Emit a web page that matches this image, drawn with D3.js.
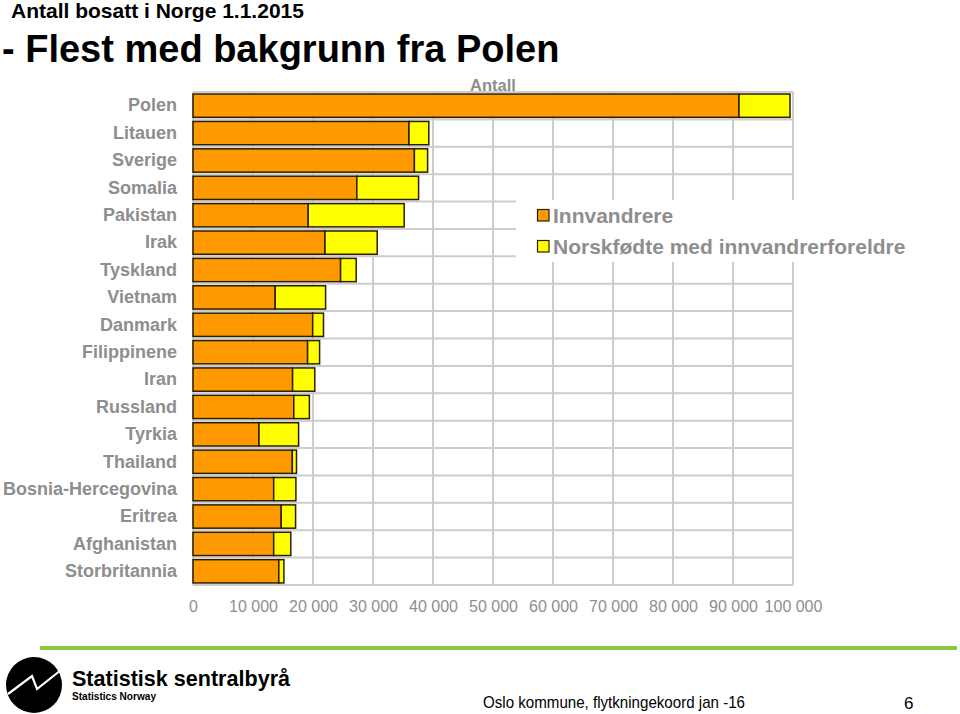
<!DOCTYPE html>
<html>
<head>
<meta charset="utf-8">
<script src="https://cdn.jsdelivr.net/npm/d3@7"></script>
<style>
  html, body { margin: 0; padding: 0; background: #fff; }
  svg { display: block; }
  text { font-family: "Liberation Sans", Arial, sans-serif; }
</style>
</head>
<body>
<svg id="chart" width="960" height="714"></svg>
<script>
// ---- data ----
const categories = ["Polen","Litauen","Sverige","Somalia","Pakistan","Irak","Tyskland","Vietnam","Danmark","Filippinene","Iran","Russland","Tyrkia","Thailand","Bosnia-Hercegovina","Eritrea","Afghanistan","Storbritannia"];
const innvandrere = [91000, 36000, 36900, 27300, 19200, 22000, 24600, 13700, 19950, 19100, 16600, 16800, 11000, 16550, 13450, 14700, 13450, 14300];
const norskfodte  = [8500, 3300, 2200, 10300, 16000, 8700, 2600, 8400, 1800, 2000, 3700, 2600, 6600, 700, 3700, 2400, 2850, 850];
const seriesNames = ["Innvandrere", "Norskfødte med innvandrerforeldre"];
const seriesColors = ["#FF9900", "#FFFF00"];
const xTicks = [0, 10000, 20000, 30000, 40000, 50000, 60000, 70000, 80000, 90000, 100000];

const svg = d3.select("#chart");
const gray = "#8e8e8e";
const gridColor = "#cdcdcd";

// titles
svg.append("text").attr("x", 11).attr("y", 18)
  .attr("font-size", 21).attr("font-weight", "bold").attr("fill", "#000")
  .text("Antall bosatt i Norge 1.1.2015");
svg.append("text").attr("x", 2).attr("y", 62)
  .attr("font-size", 38).attr("font-weight", "bold").attr("fill", "#000")
  .text("- Flest med bakgrunn fra Polen");

// scales
const x = d3.scaleLinear().domain([0, 100000]).range([193, 793]);
const y = d3.scaleBand().domain(categories).range([92, 585]).paddingInner(0.15).paddingOuter(0.075);

// gridlines
const gGrid = svg.append("g");
gGrid.selectAll("line.v").data(xTicks).join("line")
  .attr("x1", d => x(d)).attr("x2", d => x(d))
  .attr("y1", y.range()[0]).attr("y2", y.range()[1])
  .attr("stroke", gridColor).attr("stroke-width", 2);
const hLines = d3.range(categories.length + 1).map(i => y.range()[0] + i * y.step());
gGrid.selectAll("line.h").data(hLines).join("line")
  .attr("x1", x(0)).attr("x2", x(100000))
  .attr("y1", d => d).attr("y2", d => d)
  .attr("stroke", gridColor).attr("stroke-width", 2);

// stacked data
const rows = categories.map((c, i) => ({ cat: c, Innvandrere: innvandrere[i], Norsk: norskfodte[i] }));
const stack = d3.stack().keys(["Innvandrere", "Norsk"]);
const stacked = stack(rows);

svg.append("g").selectAll("g").data(stacked).join("g")
  .attr("fill", (d, i) => seriesColors[i])
  .selectAll("rect").data(d => d).join("rect")
  .attr("x", d => x(d[0]))
  .attr("y", d => y(d.data.cat))
  .attr("width", d => x(d[1]) - x(d[0]))
  .attr("height", y.bandwidth())
  .attr("stroke", "#2a1f00").attr("stroke-width", 1.5);

// category axis
const yAxis = d3.axisLeft(y).tickSize(0).tickPadding(16);
const gy = svg.append("g").attr("transform", `translate(${x(0)},0)`).call(yAxis);
gy.select(".domain").remove();
gy.selectAll("text").attr("font-size", 18).attr("font-weight", "bold").attr("fill", gray)
  .attr("font-family", "'Liberation Sans', Arial, sans-serif");

// value axis
const loc = d3.formatLocale({ decimal: ",", thousands: " ", grouping: [3], currency: ["", ""] });
const fmt = loc.format(",d");
const xAxis = d3.axisBottom(x).tickValues(xTicks).tickFormat(fmt).tickSize(0).tickPadding(16);
const gx = svg.append("g").attr("transform", `translate(0,${y.range()[1]})`).call(xAxis);
gx.select(".domain").remove();
gx.selectAll("text").attr("font-size", 16).attr("fill", gray)
  .attr("font-family", "'Liberation Sans', Arial, sans-serif");

// axis title
svg.append("text").attr("x", (x(0) + x(100000)) / 2).attr("y", 91)
  .attr("text-anchor", "middle").attr("font-size", 16.5).attr("font-weight", "bold").attr("fill", gray)
  .text("Antall");

// legend
const lg = svg.append("g");
lg.append("rect").attr("x", 516).attr("y", 200).attr("width", 420).attr("height", 62).attr("fill", "#fff");
seriesNames.forEach((name, i) => {
  const cy = 215.5 + i * 31;
  lg.append("rect").attr("x", 537.5).attr("y", cy - 6).attr("width", 11.5).attr("height", 11.5)
    .attr("fill", seriesColors[i]).attr("stroke", "#2a1f00").attr("stroke-width", 1.2);
  lg.append("text").attr("x", 553).attr("y", cy + 7.5)
    .attr("font-size", 21).attr("font-weight", "bold").attr("fill", gray)
    .text(name);
});

// footer
svg.append("rect").attr("x", 40).attr("y", 646).attr("width", 917).attr("height", 4).attr("fill", "#8dc63f");
svg.append("circle").attr("cx", 34).attr("cy", 685).attr("r", 28).attr("fill", "#000");
svg.append("path").attr("d", "M8,694 L32,676 L37,689 L61,670")
  .attr("fill", "none").attr("stroke", "#fff").attr("stroke-width", 2.2).attr("stroke-linejoin", "miter");
svg.append("text").attr("x", 72).attr("y", 686)
  .attr("font-family", "'Open Sans', 'DejaVu Sans', sans-serif")
  .attr("font-size", 22).attr("font-weight", "bold").attr("fill", "#000")
  .attr("textLength", 218).attr("lengthAdjust", "spacingAndGlyphs")
  .text("Statistisk sentralbyrå");
svg.append("text").attr("x", 72).attr("y", 700)
  .attr("font-family", "'Open Sans', 'DejaVu Sans', sans-serif")
  .attr("font-size", 10).attr("font-weight", "bold").attr("fill", "#000")
  .attr("textLength", 84).attr("lengthAdjust", "spacingAndGlyphs")
  .text("Statistics Norway");
svg.append("text").attr("x", 483).attr("y", 708)
  .attr("font-family", "'Liberation Sans Narrow', 'Arial Narrow', 'Liberation Sans', sans-serif")
  .attr("font-size", 17).attr("fill", "#000")
  .attr("textLength", 262).attr("lengthAdjust", "spacingAndGlyphs")
  .text("Oslo kommune, flytkningekoord jan -16");
svg.append("text").attr("x", 904).attr("y", 709)
  .attr("font-size", 17).attr("fill", "#000").text("6");
</script>
</body>
</html>
